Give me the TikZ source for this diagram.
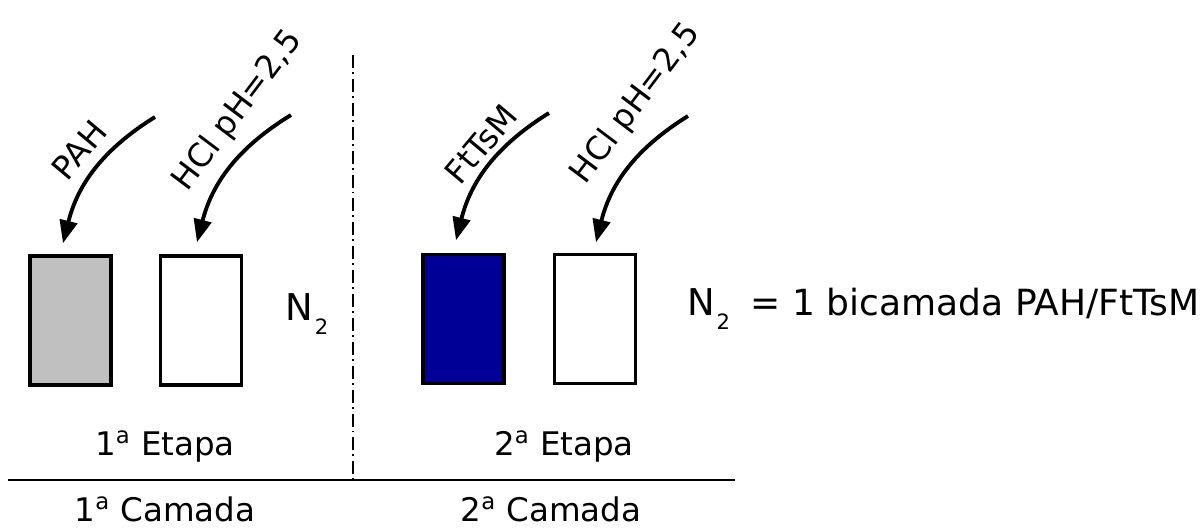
\documentclass[tikz,border=0pt]{standalone}
\usepackage{fontspec}
\setmainfont{DejaVu Sans}
\usetikzlibrary{arrows.meta,positioning}
\definecolor{ftblue}{RGB}{0,0,150}
\definecolor{pahgray}{RGB}{192,192,192}
\newcommand{\ntwo}{N\kern1pt\raisebox{-0.7ex}{\fontsize{12}{12}\selectfont 2}}
\tikzset{
  film/.style={draw,line width=2pt,minimum width=16.2mm,minimum height=25.8mm,inner sep=0pt},
  dip/.style={line width=2.2pt,-{Triangle[length=13pt,width=10pt]}},
  lbl/.style={font=\fontsize{18.5}{20}\selectfont,inner sep=0pt},
  big/.style={font=\fontsize{21}{23}\selectfont,inner sep=0pt},
  lgd/.style={font=\fontsize{20.5}{22}\selectfont,inner sep=0pt},
}
\begin{document}
\begin{tikzpicture}[x=0.2mm,y=-0.2mm]
  \useasboundingbox (0,0) rectangle (1201,527);
  % films dipped in each solution
  \node[film,fill=pahgray] (pah) at (70.5,320.5) {};
  \node[film] (hcla) at (201,320.5) {};
  \node[film,fill=ftblue] (ftts) at (463.5,319) {};
  \node[film] (hclb) at (595,319) {};
  % where the arrows come from
  \coordinate (pahin) at (155,117);
  \coordinate (hclain) at (291,115);
  \coordinate (fttsin) at (549,113);
  \coordinate (hclbin) at (688,116);
  % curved arrows down to the films
  \draw[dip] (pahin) to[bend right=22] ([shift={(-7.5,-11)}]pah.north);
  \draw[dip] (hclain) to[bend right=22] ([shift={(-4,-12)}]hcla.north);
  \draw[dip] (fttsin) to[bend right=22] ([shift={(-7.5,-12.5)}]ftts.north);
  \draw[dip] (hclbin) to[bend right=22] ([shift={(1,-10.5)}]hclb.north);
  % solution names
  \node[lbl,rotate=50] (pahlbl) at (79,150) {PAH};
  \node[lbl,rotate=53] (hclalbl) at (238,111) {HCl pH=2,5};
  \node[lbl,rotate=50] (fttslbl) at (481,144) {FtTsM};
  \node[lbl,rotate=53] (hclblbl) at (636,104) {HCl pH=2,5};
  % drying
  \node[big] (n2a) at (307,314) {\ntwo};
  \node[big,anchor=west] (n2b) at (687,309) {\ntwo};
  \node[lgd,right=4mm of n2b.base east,anchor=base west] (legend) {= 1 bicamada PAH/FtTsM};
  % step and layer names
  \node[lbl,anchor=base] (eta) at (165,455) {1\textsuperscript{a} Etapa};
  \node[lbl,anchor=base] (etb) at (564,455) {2\textsuperscript{a} Etapa};
  \node[lbl,anchor=base] (cama) at (165,521) {1\textsuperscript{a} Camada};
  \node[lbl,anchor=base] (camb) at (551,521) {2\textsuperscript{a} Camada};
  % separators
  \draw[line width=1.5pt,dash pattern=on 7.4pt off 2.3pt on 1.1pt off 2.8pt] (353,55) -- (353,480);
  \draw[line width=1.6pt] (8,480) -- (735,480);
\end{tikzpicture}
\end{document}
